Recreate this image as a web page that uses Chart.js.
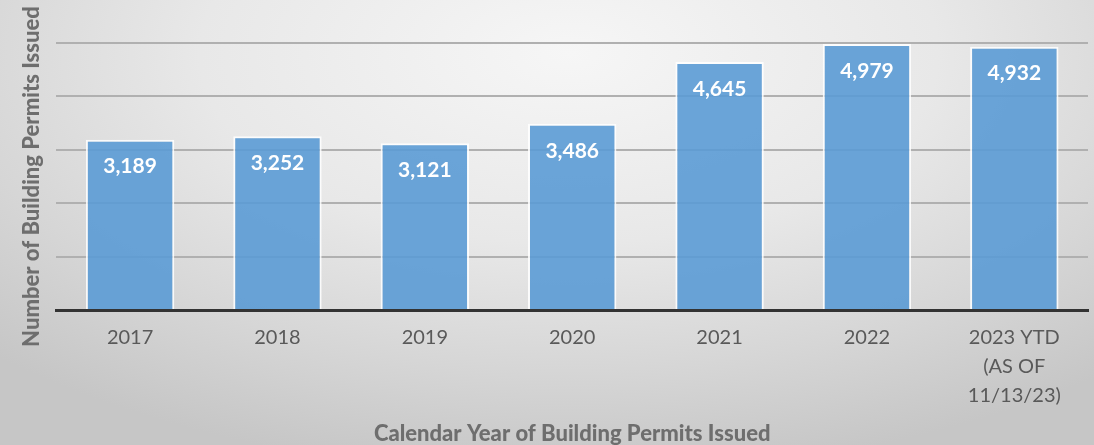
<!DOCTYPE html>
<html>
<head>
<meta charset="utf-8">
<script src="https://cdn.jsdelivr.net/npm/chart.js@4.4.1/dist/chart.umd.min.js"></script>
<style>
  html, body { margin: 0; padding: 0; }
  body {
    width: 1094px; height: 445px; overflow: hidden;
    background: radial-gradient(ellipse 75% 95% at 52% 12%, #f6f6f6 0%, #e8e8e8 45%, #d6d6d6 75%, #c6c6c6 100%);
  }
  #wrap { position: relative; width: 1094px; height: 445px; }
</style>
</head>
<body>
<div id="wrap"><canvas id="c" width="1094" height="445"></canvas></div>
<script>
const categories = ['2017', '2018', '2019', '2020', '2021', '2022', ['2023 YTD', '(AS OF', '11/13/23)']];
const permits = [3189, 3252, 3121, 3486, 4645, 4979, 4932];
const yTicks = [0, 1000, 2000, 3000, 4000, 5000];
const xTitle = 'Calendar Year of Building Permits Issued';
const yTitle = 'Number of Building Permits Issued';

const barLabels = {
  id: 'barLabels',
  afterDatasetsDraw(chart) {
    const ctx = chart.ctx;
    const meta = chart.getDatasetMeta(0);
    ctx.save();
    ctx.font = 'bold 21px Lato';
    ctx.fillStyle = '#ffffff';
    ctx.textAlign = 'center';
    ctx.textBaseline = 'middle';
    meta.data.forEach((bar, i) => {
      ctx.fillText(permits[i].toLocaleString('en-US'), bar.x, bar.y + 27);
    });
    ctx.restore();
  }
};

new Chart(document.getElementById('c'), {
  type: 'bar',
  data: {
    labels: categories,
    datasets: [{
      data: permits,
      backgroundColor: 'rgba(91,155,213,0.9)',
      borderColor: 'rgba(255,255,255,0.85)',
      borderWidth: { left: 2, right: 2, top: 2, bottom: 0 },
      barPercentage: 0.6,
      categoryPercentage: 1.0
    }]
  },
  options: {
    responsive: false,
    animation: false,
    layout: { padding: { left: 0, right: 6, top: 43, bottom: 0 } },
    plugins: { legend: { display: false }, tooltip: { enabled: false } },
    scales: {
      x: {
        grid: { display: false, drawTicks: false },
        border: { display: true, color: '#333333', width: 3 },
        ticks: {
          color: '#595959',
          font: { family: 'Lato', size: 20, lineHeight: 1.45 },
          padding: 13,
          autoSkip: false,
          maxRotation: 0
        },
        title: {
          display: true,
          text: xTitle,
          color: '#6e6e6e',
          font: { family: 'Lato', size: 22, weight: 900, lineHeight: 1 },
          padding: { top: 0, bottom: 0 }
        }
      },
      y: {
        min: 0,
        max: 5000,
        afterBuildTicks(scale) { scale.ticks = yTicks.map(v => ({ value: v })); },
        grid: {
          color: (c) => c.tick && c.tick.value === 0 ? 'rgba(0,0,0,0)' : '#b0b0b0',
          lineWidth: 2,
          drawTicks: false
        },
        border: { display: false },
        ticks: { display: false },
        title: {
          display: true,
          text: yTitle,
          color: '#6e6e6e',
          font: { family: 'Lato', size: 22, weight: 900, lineHeight: 1.2 },
          padding: { top: 19, bottom: 11 }
        }
      }
    }
  },
  plugins: [barLabels]
});
</script>
</body>
</html>
